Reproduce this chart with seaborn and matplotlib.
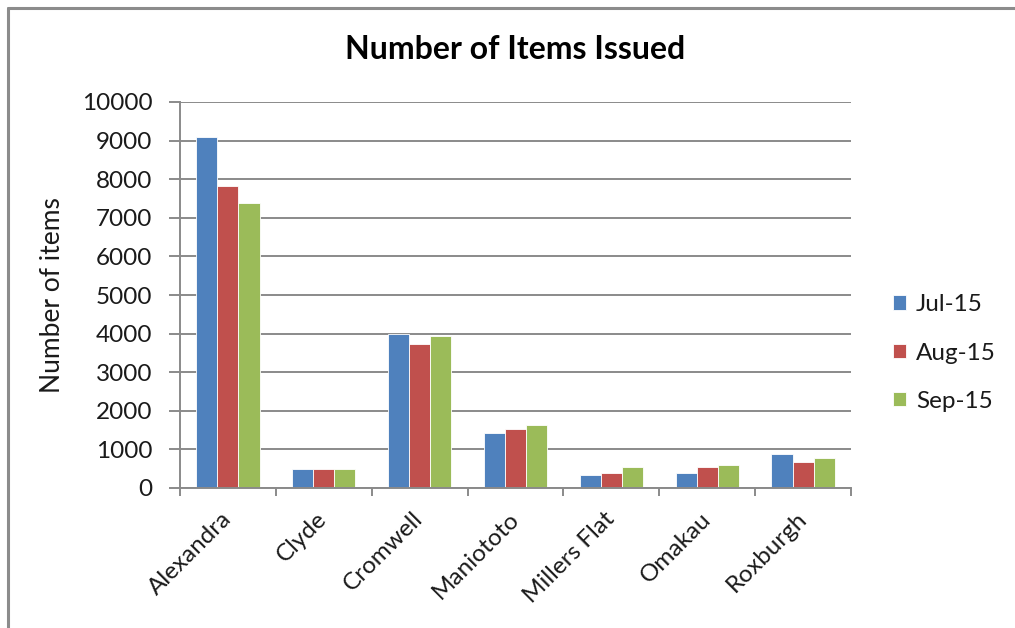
import matplotlib
matplotlib.use("Agg")
import matplotlib.pyplot as plt
import seaborn as sns
import pandas as pd
import numpy as np
from matplotlib.lines import Line2D

branches = ["Alexandra", "Clyde", "Cromwell", "Maniototo", "Millers Flat", "Omakau", "Roxburgh"]
months = ["Jul-15", "Aug-15", "Sep-15"]
jul_15 = [9100, 490, 3990, 1420, 340, 390, 875]
aug_15 = [7820, 490, 3730, 1520, 390, 550, 665]
sep_15 = [7390, 490, 3950, 1630, 550, 605, 770]
y_ticks = [0, 1000, 2000, 3000, 4000, 5000, 6000, 7000, 8000, 9000, 10000]

colors = ["#4F81BD", "#C0504D", "#9BBB59"]

df = pd.DataFrame({
    "Branch": branches * 3,
    "Month": [months[0]] * 7 + [months[1]] * 7 + [months[2]] * 7,
    "Items": jul_15 + aug_15 + sep_15,
})

sns.set_theme(style="white")
plt.rcParams["font.family"] = ["Lato", "DejaVu Sans"]

fig = plt.figure(figsize=(10.15, 6.28), dpi=100)
ax = fig.add_axes([180 / 1015, 1 - 488 / 628, (851 - 180) / 1015, (488 - 102) / 628])

sns.barplot(data=df, x="Branch", y="Items", hue="Month", order=branches,
            hue_order=months, palette=colors, width=0.66, gap=0,
            edgecolor="white", linewidth=0.6, saturation=1, ax=ax, legend=True,
            errorbar=None)

grid_c = "#8a8a8a"
ax.set_ylim(0, 10000)
ax.set_xlim(-0.5, len(branches) - 0.5)
ax.set_yticks(y_ticks)
ax.set_yticklabels([str(v) for v in y_ticks])
ax.yaxis.grid(True, color=grid_c, linewidth=1.4)
ax.set_axisbelow(True)
for s in ["top", "right"]:
    ax.spines[s].set_visible(False)
for s in ["left", "bottom"]:
    ax.spines[s].set_color(grid_c)
    ax.spines[s].set_linewidth(1.4)

ax.tick_params(axis="y", which="major", left=True, length=8, width=1.4,
               color=grid_c, pad=12, labelsize=17.5, labelcolor="#1a1a1a")
ax.set_xticks(range(len(branches)))
ax.set_xticklabels(branches, rotation=45, ha="right", va="center",
                   rotation_mode="anchor", fontsize=17.5, color="#1a1a1a")
ax.tick_params(axis="x", which="major", bottom=False, length=0, pad=20)
ax.set_xticks(np.arange(-0.5, len(branches), 1.0), minor=True)
ax.tick_params(axis="x", which="minor", bottom=True, length=6, width=1.4, color=grid_c)

ax.set_xlabel("")
ax.set_ylabel("Number of items", fontsize=19, color="#1a1a1a")
ax.yaxis.set_label_coords(-0.172, 0.5)
ax.set_title("Number of Items Issued", fontsize=23, fontweight="bold", pad=31, color="black")

handles, labels = ax.get_legend_handles_labels()
ax.get_legend().remove()
fig.legend(handles, labels, loc="center left", bbox_to_anchor=(893 / 1015, 1 - 353 / 628),
           frameon=False, fontsize=17.5, handlelength=0.55, handleheight=0.55,
           handletextpad=0.4, labelspacing=1.12, borderpad=0, borderaxespad=0,
           labelcolor="#1a1a1a")

# Outer frame (top and left edges visible in the cropped screenshot)
fig.add_artist(Line2D([8 / 1015, 8 / 1015], [0, 1 - 8 / 628], transform=fig.transFigure,
                      color="#8c8c8c", linewidth=2.2))
fig.add_artist(Line2D([8 / 1015, 1], [1 - 8 / 628, 1 - 8 / 628], transform=fig.transFigure,
                      color="#8c8c8c", linewidth=2.2))

fig.savefig("out.png", dpi=100)
